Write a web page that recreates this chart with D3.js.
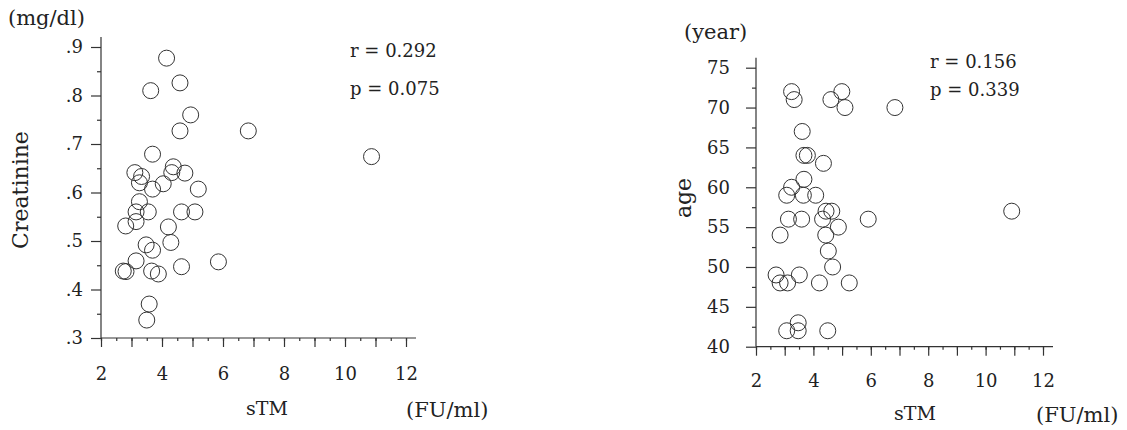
<!DOCTYPE html>
<html>
<head>
<meta charset="utf-8">
<script src="https://cdn.jsdelivr.net/npm/d3@7"></script>
<style>
  body { margin: 0; background: #fff; }
  svg { display: block; }
  text { font-family: "DejaVu Serif", serif; fill: #222; }
  .tick text { font-size: 18px; }
  .tick line, .axisline { stroke: #333; stroke-width: 1.2; }
  .unit { font-size: 21px; }
  .ylab { font-size: 22px; }
  .xlab { font-size: 19px; }
  .stat { font-size: 18px; }
</style>
</head>
<body>
<svg width="1127" height="430"></svg>
<script>
// creatinine vs sTM
var creaX = [4.15, 4.59, 3.63, 4.94, 4.59, 6.83, 10.87, 3.69, 3.11, 3.33, 4.37, 4.32, 4.75,
             3.26, 3.69, 4.04, 5.19, 3.26, 3.15, 3.55, 4.64, 5.08, 2.81, 3.15, 4.21, 3.48,
             3.69, 4.29, 3.15, 5.85, 2.73, 2.82, 3.66, 3.88, 4.64, 3.58, 3.50];
var creaY = [.877, .826, .81, .76, .727, .727, .674, .679, .641, .633, .653, .641, .640,
             .620, .607, .618, .607, .581, .56, .56, .56, .56, .531, .540, .529, .492,
             .481, .497, .459, .457, .438, .437, .438, .432, .447, .370, .337];

// age vs sTM
var ageX = [3.24, 3.33, 4.99, 4.61, 5.10, 6.84, 3.61, 3.67, 3.79, 4.35, 3.67, 3.24, 3.07,
            3.65, 4.08, 4.44, 4.64, 3.13, 3.59, 4.32, 5.91, 4.87, 2.84, 4.43, 4.52, 4.67,
            2.70, 3.51, 2.84, 3.10, 4.21, 5.25, 3.47, 3.07, 3.47, 4.50, 10.91];
var ageY = [72, 71, 72, 71, 70, 70, 67, 64, 64, 63, 61, 60, 59,
            59, 59, 57, 57, 56, 56, 56, 56, 55, 54, 54, 52, 50,
            49, 49, 48, 48, 48, 48, 43, 42, 42, 42, 57];

var xTicks = [2, 4, 6, 8, 10, 12];
var creaTicks = [.3, .4, .5, .6, .7, .8, .9];
var ageTicks = [40, 45, 50, 55, 60, 65, 70, 75];

var svg = d3.select("svg");

function panel(o) {
  var g = svg.append("g");
  var x = d3.scaleLinear().domain([2, 12]).range([o.left, o.right]);
  var y = d3.scaleLinear().domain(o.yDomain).range([o.bottom, o.top]);

  // axis lines
  g.append("line").attr("class", "axisline")
    .attr("x1", o.left).attr("x2", o.left).attr("y1", o.bottom).attr("y2", o.top - 10);
  g.append("line").attr("class", "axisline")
    .attr("x1", o.left).attr("x2", o.right + 10).attr("y1", o.bottom).attr("y2", o.bottom);

  // minor ticks
  g.append("g").attr("transform", "translate(0," + o.bottom + ")")
    .call(d3.axisBottom(x).tickValues(d3.range(2, 12.01, 0.5)).tickSize(3).tickFormat("").tickSizeOuter(0))
    .call(function (s) { s.select(".domain").remove(); });
  g.append("g").attr("transform", "translate(" + o.left + ",0)")
    .call(d3.axisLeft(y).tickValues(o.yMinor).tickSize(4).tickFormat("").tickSizeOuter(0))
    .call(function (s) { s.select(".domain").remove(); });

  // major ticks
  g.append("g").attr("transform", "translate(0," + o.bottom + ")")
    .call(d3.axisBottom(x).tickValues(d3.range(2, 12.01, 1)).tickSize(9).tickPadding(o.xPad)
      .tickFormat(function (d) { return xTicks.indexOf(d) >= 0 ? d : ""; }).tickSizeOuter(0))
    .call(function (s) { s.select(".domain").remove(); });
  g.append("g").attr("transform", "translate(" + o.left + ",0)")
    .call(d3.axisLeft(y).tickValues(o.yTicks).tickSize(10).tickPadding(o.yPad)
      .tickFormat(o.yFormat).tickSizeOuter(0))
    .call(function (s) { s.select(".domain").remove(); });

  g.selectAll(".pt")
    .data(o.xs)
    .enter().append("circle")
    .attr("class", "pt")
    .attr("cx", function (d) { return x(d); })
    .attr("cy", function (d, i) { return y(o.ys[i]); })
    .attr("r", 8)
    .attr("fill", "none")
    .attr("stroke", "#333")
    .attr("stroke-width", 1);

  g.append("text").attr("class", "unit").attr("x", o.unitY[0]).attr("y", o.unitY[1]).text(o.unitYText);
  g.append("text").attr("class", "ylab")
    .attr("transform", "translate(" + o.yLab[0] + "," + o.yLab[1] + ") rotate(-90)")
    .attr("text-anchor", "middle").attr("dy", "0.35em").text(o.yLabText);
  g.append("text").attr("class", "xlab").attr("text-anchor", "middle")
    .attr("x", o.xLab[0]).attr("y", o.xLab[1]).text("sTM");
  g.append("text").attr("class", "unit").attr("x", o.unitX[0]).attr("y", o.unitX[1]).text("(FU/ml)");
  g.append("text").attr("class", "stat").attr("x", o.stat[0]).attr("y", o.stat[1]).text(o.rText);
  g.append("text").attr("class", "stat").attr("x", o.stat[0]).attr("y", o.stat[2]).text(o.pText);
}

panel({
  left: 101, right: 406, top: 47, bottom: 338,
  yDomain: [.3, .9], yTicks: creaTicks, yMinor: d3.range(.35, .9, .1),
  yFormat: function (d) { return d.toFixed(1).replace("0.", "."); },
  xPad: 20, yPad: 8,
  xs: creaX, ys: creaY,
  unitY: [8, 25], unitYText: "(mg/dl)",
  yLab: [20, 190], yLabText: "Creatinine",
  xLab: [267, 415], unitX: [406, 417],
  stat: [350, 57, 95], rText: "r = 0.292", pText: "p = 0.075"
});

panel({
  left: 756, right: 1043, top: 67.7, bottom: 346.7,
  yDomain: [40, 75], yTicks: ageTicks, yMinor: d3.range(42.5, 75, 5),
  yFormat: function (d) { return d; },
  xPad: 19, yPad: 16,
  xs: ageX, ys: ageY,
  unitY: [684, 39], unitYText: "(year)",
  yLab: [683, 198], yLabText: "age",
  xLab: [915, 420], unitX: [1036, 422],
  stat: [930, 68, 96], rText: "r = 0.156", pText: "p = 0.339"
});
</script>
</body>
</html>
